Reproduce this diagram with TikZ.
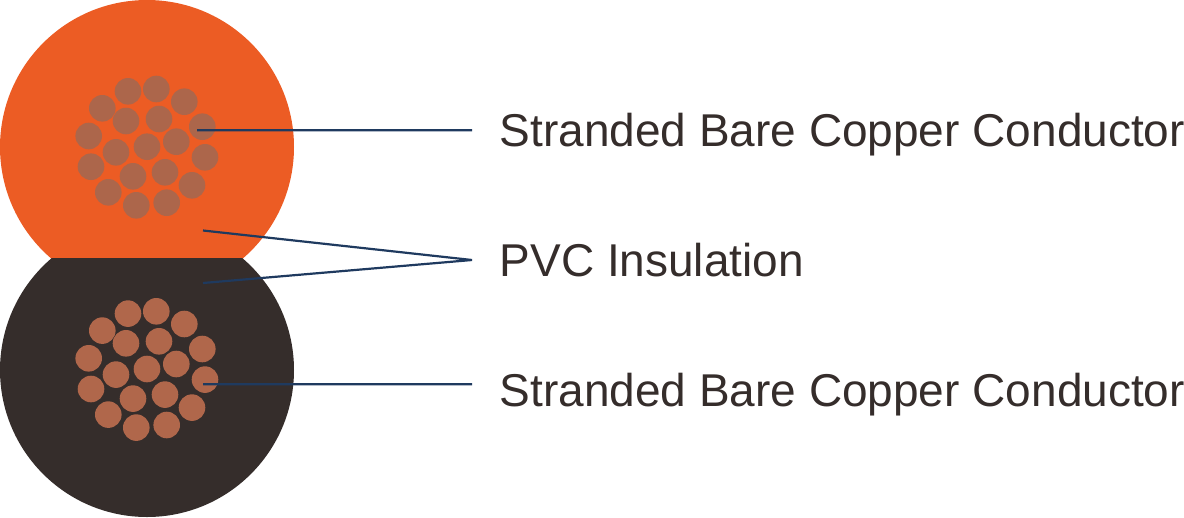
\documentclass[tikz,border=0pt]{standalone}
\usepackage{fontspec}
\setmainfont{Liberation Sans}
\usetikzlibrary{positioning}
\definecolor{sheathorange}{HTML}{EC5C24}
\definecolor{sheathblack}{HTML}{352D2B}
\definecolor{strandorange}{HTML}{AC664B}
\definecolor{strandblack}{HTML}{B0674B}
\definecolor{leadblue}{HTML}{1F3A5F}

\begin{document}
\begin{tikzpicture}[x=1pt,y=-1pt]
	  \tikzstyle{sheath}=[circle,inner sep=0pt,minimum size=294pt]
	  \tikzstyle{strand}=[circle,inner sep=0pt,minimum size=26.6pt]
	  \tikzstyle{lead}=[draw=leadblue,line width=2.2pt]
	  \tikzstyle{callout}=[anchor=base west,inner sep=0pt,text=sheathblack,font=\fontsize{46}{50}\selectfont]

	  \useasboundingbox (0,0) rectangle (1184,517);

	  % the two sheaths, cut flat where they meet
	  \begin{scope}
	    \clip (0,0) rectangle (1184,258);
	    \node[sheath,fill=sheathorange] (upper) at (147,147) {};
	  \end{scope}
	  \begin{scope}
	    \clip (0,258) rectangle (1184,517);
	    \node[sheath,fill=sheathblack] (lower) at (147,370) {};
	  \end{scope}

	  % strands, the lower ones sit 222.3 further down
	  \foreach \x/\y [count=\i] in {128/91.3,156.3/89,184.3/101.7,102.3/108.3,126/121,159/119,
	    202.3/126.7,88.7/136,176.3/141.7,147/146.7,116/152.3,205/157.3,91/166.7,165/172.3,
	    133/176.3,192/185.3,108.3/192.3,166.7/202.7,136.3/205.3} {
	    \node[strand,fill=strandorange] (u\i) at (\x,\y) {};
	    \node[strand,fill=strandblack] (l\i) at (\x,\y+222.3) {};
	  }

	  \node[callout] (top) at (499.5,146) {Stranded Bare Copper Conductor};
	  \node[callout] (mid) at (499.5,276) {PVC Insulation};
	  \node[callout] (bot) at (499.5,406) {Stranded Bare Copper Conductor};

	  \coordinate (topin) at (197,130.3);
	  \coordinate (topout) at (472,130.3);
	  \coordinate (midup) at (203,230.5);
	  \coordinate (midlow) at (203,283);
	  \coordinate (midout) at (472,260);
	  \coordinate (botin) at (203,384.3);
	  \coordinate (botout) at (472,384.3);

	  \path[lead] (topin) -- (topout)
	  (midup) -- (midout) -- (midlow)
	  (botin) -- (botout);
	\end{tikzpicture}
\end{document}
